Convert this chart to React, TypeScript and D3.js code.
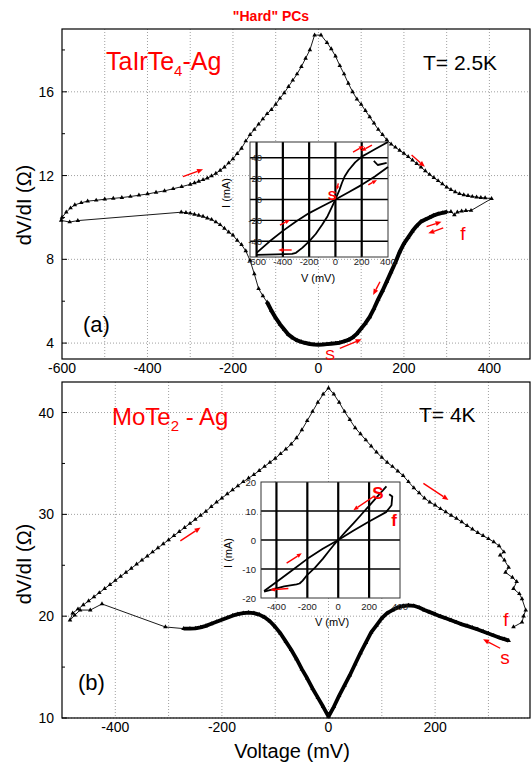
import React from "react";
import * as d3 from "d3";

type P = [number, number];

const FONT = "'Liberation Sans', Arial, Helvetica, sans-serif";
const RED = "#ff0000";

// ---------------- Panel (a): TaIrTe4-Ag, T = 2.5 K ----------------
const aXTicks = [-600, -400, -200, 0, 200, 400];
const aXGrid = [-500, -400, -300, -200, -100, 0, 100, 200, 300, 400];
const aYTicks = [4, 8, 12, 16];
const aYMinor = [6, 10, 14, 18];

// start S (V=0) -> right along the low-resistance branch
const aBottomRight: P[] = [
  [0, 3.92], [10, 3.93], [20, 3.95], [30, 3.97], [40, 3.99], [50, 4.02], [60, 4.08], [70, 4.15],
  [80, 4.27], [90, 4.45], [100, 4.7], [110, 4.95], [120, 5.25], [130, 5.65], [140, 6.1], [150, 6.5],
  [160, 6.95], [170, 7.4], [180, 7.85], [190, 8.35], [200, 8.75], [210, 9.05], [220, 9.35], [230, 9.6],
  [240, 9.8], [250, 9.9], [260, 10.0], [270, 10.1], [280, 10.17], [290, 10.22], [300, 10.26],
];
const aFinish: P[] = [[310, 10.28], [318, 10.12], [325, 10.25], [335, 10.3], [345, 10.32], [357, 10.33]];
// tip -> peak (upper right branch)
const aUpperRight: P[] = [
  [405, 10.9], [390, 10.93], [380, 10.95], [370, 10.97], [360, 11.0], [350, 11.04], [340, 11.08],
  [330, 11.13], [320, 11.22], [310, 11.33], [300, 11.45], [290, 11.6], [280, 11.75], [270, 11.9],
  [260, 12.05], [250, 12.22], [240, 12.4], [230, 12.57], [220, 12.74], [210, 12.9], [200, 13.06],
  [190, 13.2], [180, 13.35], [170, 13.5], [160, 13.7], [150, 13.95], [140, 14.2], [130, 14.5],
  [120, 14.8], [110, 15.1], [100, 15.4], [90, 15.65], [80, 16.0], [70, 16.4], [60, 16.85],
  [50, 17.25], [40, 17.7], [30, 18.05], [20, 18.35], [6, 18.71],
];
// peak -> -600 (upper left branch)
const aUpperLeft: P[] = [
  [-9, 18.71], [-20, 18.0], [-30, 17.6], [-40, 17.2], [-50, 16.85], [-60, 16.55], [-70, 16.25],
  [-80, 15.95], [-90, 15.69], [-100, 15.4], [-110, 15.15], [-120, 14.95], [-130, 14.7], [-140, 14.45],
  [-150, 14.2], [-160, 13.95], [-170, 13.65], [-180, 13.3], [-190, 13.05], [-200, 12.8], [-210, 12.6],
  [-220, 12.4], [-230, 12.25], [-240, 12.1], [-250, 11.98], [-260, 11.88], [-270, 11.8], [-280, 11.72],
  [-290, 11.65], [-300, 11.58], [-320, 11.47], [-340, 11.37], [-360, 11.27], [-380, 11.2],
  [-400, 11.12], [-420, 11.06], [-440, 11.0], [-460, 10.95], [-480, 10.91], [-500, 10.87],
  [-520, 10.82], [-540, 10.78], [-555, 10.7], [-570, 10.6], [-580, 10.45], [-590, 10.25], [-600, 10.0],
];
const aLowerTail: P[] = [[-602, 9.86], [-582, 9.78], [-563, 9.85]];
const aLowerLeft: P[] = [
  [-321, 10.25], [-310, 10.23], [-300, 10.2], [-290, 10.15], [-280, 10.1], [-270, 10.05], [-260, 9.97],
  [-250, 9.9], [-240, 9.78], [-230, 9.65], [-220, 9.48], [-210, 9.3], [-200, 9.15], [-190, 8.9],
  [-180, 8.7], [-170, 8.4], [-160, 7.95], [-150, 7.3], [-140, 6.6], [-130, 6.25],
];
const aBottomLeft: P[] = [
  [-120, 5.95], [-110, 5.55], [-100, 5.2], [-90, 4.9], [-80, 4.65], [-70, 4.4], [-60, 4.25],
  [-50, 4.13], [-40, 4.06], [-30, 4.0], [-20, 3.96], [-10, 3.93], [0, 3.92],
];

// inset (a): I-V
const iaXTicks = [-600, -400, -200, 0, 200, 400];
const iaXGrid = [-600, -400, -200, 0, 200];
const iaYTicks = [40, 20, 0, -20, -40];
const iaLinear: P[] = [
  [-600, -51], [-500, -40], [-400, -30], [-300, -21], [-200, -13], [-100, -6.5], [0, 0],
  [100, 7], [200, 14], [300, 22], [400, 31],
];
const iaSteep: P[] = [
  [400, 55], [300, 48], [250, 44.5], [200, 41], [150, 35.5], [100, 28], [70, 22], [50, 16], [30, 9],
  [0, 0], [-30, -8], [-60, -16], [-100, -24], [-150, -33], [-200, -40], [-250, -46], [-300, -51],
  [-330, -52], [-450, -52.5], [-600, -53],
];
const iaHook: P[] = [[292, 37], [322, 33], [390, 35]];

// ---------------- Panel (b): MoTe2 - Ag, T = 4 K ----------------
const bXTicks = [-400, -200, 0, 200];
const bXGrid = [-400, -300, -200, -100, 0, 100, 200, 300];
const bYTicks = [10, 20, 30, 40];
const bYMinor = [15, 25, 35];

// start s -> left along the low-resistance branch
const bLower: P[] = [
  [338, 17.6], [330, 17.75], [320, 17.9], [310, 18.1], [300, 18.3], [290, 18.5], [280, 18.7],
  [270, 18.87], [260, 19.05], [250, 19.2], [240, 19.4], [230, 19.6], [220, 19.8], [210, 19.98],
  [200, 20.2], [190, 20.4], [180, 20.6], [170, 20.85], [160, 21.02], [150, 21.07], [140, 21.0],
  [130, 20.85], [120, 20.6], [110, 20.3], [100, 19.8], [90, 19.1], [80, 18.4], [70, 17.4],
  [60, 16.4], [50, 15.3], [40, 14.2], [30, 13.2], [20, 12.2], [10, 11.1], [0, 10.15],
  [-10, 11.1], [-20, 12.0], [-30, 12.9], [-40, 13.9], [-50, 14.8], [-60, 15.8], [-70, 16.7],
  [-80, 17.5], [-90, 18.3], [-100, 18.95], [-110, 19.5], [-120, 19.9], [-130, 20.15], [-140, 20.3],
  [-150, 20.35], [-160, 20.3], [-170, 20.2], [-180, 20.05], [-190, 19.85], [-200, 19.65],
  [-210, 19.45], [-220, 19.25], [-230, 19.05], [-240, 18.9], [-250, 18.8], [-260, 18.77], [-272, 18.78],
];
const bJump: P[] = [[-306, 18.94], [-425, 21.2], [-447, 20.6], [-466, 20.6], [-476, 20.1], [-485, 19.6]];
const bUpper: P[] = [
  [-480, 20.3], [-470, 20.7], [-460, 21.1], [-450, 21.5], [-440, 21.9], [-430, 22.3], [-420, 22.7],
  [-410, 23.1], [-400, 23.5], [-390, 23.9], [-380, 24.3], [-370, 24.7], [-360, 25.1], [-350, 25.5],
  [-340, 25.9], [-330, 26.3], [-320, 26.7], [-310, 27.1], [-300, 27.5], [-290, 27.9], [-280, 28.3],
  [-270, 28.7], [-260, 29.1], [-250, 29.5], [-240, 29.9], [-230, 30.3], [-220, 30.75], [-210, 31.2],
  [-200, 31.6], [-190, 32.0], [-180, 32.4], [-170, 32.8], [-160, 33.2], [-150, 33.55], [-140, 33.9],
  [-130, 34.3], [-120, 34.7], [-110, 35.1], [-100, 35.5], [-90, 35.95], [-80, 36.4], [-70, 36.9],
  [-60, 37.5], [-50, 38.3], [-40, 39.2], [-30, 40.1], [-20, 41.0], [-10, 41.8], [0, 42.4],
  [10, 41.8], [20, 41.0], [30, 40.1], [40, 39.3], [50, 38.5], [60, 37.9], [70, 37.3], [80, 36.7],
  [90, 36.1], [100, 35.6], [110, 35.1], [120, 34.7], [130, 34.25], [140, 33.8], [150, 33.2],
  [160, 32.6], [170, 32.1], [180, 31.6], [190, 31.2], [200, 30.9], [210, 30.55], [220, 30.25],
  [230, 29.9], [240, 29.6], [250, 29.25], [260, 28.9], [270, 28.55], [280, 28.2], [290, 27.9],
  [300, 27.6], [310, 27.3], [320, 26.9], [329, 26.3], [322, 26.0], [330, 25.5], [338, 24.8],
  [332, 24.3], [345, 23.8], [353, 23.4], [347, 22.7], [358, 22.2], [363, 21.7], [370, 20.6],
  [366, 20.0], [363, 19.4], [347, 18.94],
];

// inset (b): I-V
const ibXTicks = [-400, -200, 0, 200, 400];
const ibXGrid = [-400, -200, 0, 200];
const ibYTicks = [20, 10, 0, -10, -20];
const ibYGrid = [10, 0, -10];
const ibLinear: P[] = [
  [-480, -17.6], [-400, -14.5], [-300, -10.5], [-200, -6.5], [-100, -3], [0, 0], [100, 3.3],
  [200, 6.4], [310, 9.6], [345, 12], [350, 15], [330, 15.8],
];
const ibSteep: P[] = [
  [312, 18.5], [250, 14.8], [200, 11.8], [150, 8.8], [100, 5.8], [50, 3], [20, 1.2], [0, 0],
  [-30, -1.8], [-60, -3.8], [-100, -6.5], [-150, -9.5], [-200, -12], [-230, -14], [-250, -15],
  [-270, -15.3], [-350, -16], [-480, -17.8],
];

// ---------------- helpers ----------------
const tri = d3.symbol().type(d3.symbolTriangle).size(9)() as string;

function Arrow({ x1, y1, x2, y2, head = 6, w = 1.4 }: { x1: number; y1: number; x2: number; y2: number; head?: number; w?: number }) {
  const a = Math.atan2(y2 - y1, x2 - x1);
  const hx = x2 - head * Math.cos(a);
  const hy = y2 - head * Math.sin(a);
  const px = -Math.sin(a) * head * 0.42;
  const py = Math.cos(a) * head * 0.42;
  return (
    <g>
      <line x1={x1} y1={y1} x2={hx} y2={hy} stroke={RED} strokeWidth={w} />
      <polygon points={`${x2},${y2} ${hx + px},${hy + py} ${hx - px},${hy - py}`} fill={RED} />
    </g>
  );
}

type Lin = d3.ScaleLinear<number, number>;

function MainFrame(props: {
  x: Lin; y: Lin; xTicks: number[]; xGrid: number[]; yTicks: number[]; yMinor: number[];
  labelY: number; xLabelY: number;
}) {
  const { x, y, xTicks, xGrid, yTicks, yMinor, labelY, xLabelY } = props;
  const [x0, x1] = x.range();
  const [y0, y1] = y.range(); // y0 bottom, y1 top
  return (
    <g>
      {xGrid.map((v) => (
        <line key={"gx" + v} x1={x(v)} x2={x(v)} y1={y1} y2={y0} stroke="#a0a0a0" strokeWidth={1} strokeDasharray="1,2" />
      ))}
      {yTicks.map((v) => (
        <line key={"gy" + v} x1={x0} x2={x1} y1={y(v)} y2={y(v)} stroke="#a0a0a0" strokeWidth={1} strokeDasharray="1,2" />
      ))}
      <rect x={x0} y={y1} width={x1 - x0} height={y0 - y1} fill="none" stroke="#000" strokeWidth={1.2} />
      {yTicks.map((v) => (
        <line key={"ty" + v} x1={x0} x2={x0 + 5} y1={y(v)} y2={y(v)} stroke="#000" strokeWidth={1} />
      ))}
      {yMinor.map((v) => (
        <line key={"tm" + v} x1={x0} x2={x0 + 3} y1={y(v)} y2={y(v)} stroke="#000" strokeWidth={1} />
      ))}
      {yTicks.map((v) => (
        <text key={"ly" + v} x={x0 - 8} y={y(v) + 5} textAnchor="end" fontSize={14} fontFamily={FONT} fill="#000">
          {v}
        </text>
      ))}
      {xTicks.map((v) => (
        <text key={"lx" + v} x={x(v)} y={xLabelY} textAnchor="middle" fontSize={14} fontFamily={FONT} fill="#000">
          {v}
        </text>
      ))}
      <text transform={`translate(31,${labelY}) rotate(-90)`} textAnchor="middle" fontSize={20} fontFamily={FONT} fill="#000">
        dV/dI (Ω)
      </text>
    </g>
  );
}

function Curves({ x, y, all, thick, width }: { x: Lin; y: Lin; all: P[]; thick: P[][]; width: number }) {
  const line = d3.line<P>().x((d) => x(d[0])).y((d) => y(d[1]));
  return (
    <g>
      <path d={line(all) as string} fill="none" stroke="#000" strokeWidth={0.9} />
      {thick.map((s, i) => (
        <path key={i} d={line(s) as string} fill="none" stroke="#000" strokeWidth={width} strokeLinejoin="round" />
      ))}
      {all.map((d, i) => (
        <path key={"m" + i} d={tri} transform={`translate(${x(d[0])},${y(d[1])})`} fill="#000" />
      ))}
    </g>
  );
}

function Inset(props: {
  x: Lin; y: Lin; xTicks: number[]; xGrid: number[]; yTicks: number[]; yGrid: number[];
  curves: P[][]; yLabelAnchorX: number; xLabelBase: number; vLabel: [number, number]; iLabel: [number, number];
}) {
  const { x, y, xTicks, xGrid, yTicks, yGrid, curves, yLabelAnchorX, xLabelBase, vLabel, iLabel } = props;
  const [x0, x1] = x.range();
  const [y0, y1] = y.range();
  const line = d3.line<P>().x((d) => x(d[0])).y((d) => y(d[1]));
  return (
    <g>
      <rect x={x0} y={y1} width={x1 - x0} height={y0 - y1} fill="#fff" stroke="none" />
      {xGrid.map((v) => (
        <line key={"vx" + v} x1={x(v)} x2={x(v)} y1={y1} y2={y0} stroke="#000" strokeWidth={2.2} />
      ))}
      {yGrid.map((v) => (
        <line key={"hy" + v} x1={x0} x2={x1} y1={y(v)} y2={y(v)} stroke="#000" strokeWidth={1.4} />
      ))}
      <rect x={x0} y={y1} width={x1 - x0} height={y0 - y1} fill="none" stroke="#333" strokeWidth={1} />
      {curves.map((c, i) => (
        <path key={i} d={line(c) as string} fill="none" stroke="#000" strokeWidth={1.8} strokeLinejoin="round" />
      ))}
      {yTicks.map((v) => (
        <text key={"iy" + v} x={yLabelAnchorX} y={y(v) + 3.5} textAnchor="end" fontSize={9.5} fontFamily={FONT} fill="#222">
          {v}
        </text>
      ))}
      {xTicks.map((v) => (
        <text key={"ix" + v} x={x(v)} y={xLabelBase} textAnchor="middle" fontSize={9.5} fontFamily={FONT} fill="#222">
          {v}
        </text>
      ))}
      <text x={vLabel[0]} y={vLabel[1]} textAnchor="middle" fontSize={11} fontFamily={FONT} fill="#000">
        V (mV)
      </text>
      <text transform={`translate(${iLabel[0]},${iLabel[1]}) rotate(-90)`} textAnchor="middle" fontSize={11} fontFamily={FONT} fill="#000">
        I (mA)
      </text>
    </g>
  );
}

export default function App() {
  // panel (a)
  const xa = d3.scaleLinear().domain([-600, 495]).range([62, 530]);
  const ya = d3.scaleLinear().domain([3.24, 19]).range([359, 29]);
  const aAll: P[] = [...aBottomRight, ...aFinish, ...aUpperRight, ...aUpperLeft, ...aLowerTail, ...aLowerLeft, ...aBottomLeft];

  const xia = d3.scaleLinear().domain([-650, 400]).range([250, 388]);
  const yia = d3.scaleLinear().domain([-55, 55]).range([257, 142]);

  // panel (b)
  const xb = d3.scaleLinear().domain([-500, 378]).range([62, 530]);
  const yb = d3.scaleLinear().domain([10, 43]).range([718, 382]);
  const bAll: P[] = [...bLower, ...bJump, ...bUpper];

  const xib = d3.scaleLinear().domain([-500, 400]).range([261, 400]);
  const yib = d3.scaleLinear().domain([-20, 20]).range([598, 482]);

  const A = (v1: number, r1: number, v2: number, r2: number, sx: Lin, sy: Lin, head = 6) => (
    <Arrow x1={sx(v1)} y1={sy(r1)} x2={sx(v2)} y2={sy(r2)} head={head} />
  );

  return (
    <svg width={532} height={765} style={{ display: "block", position: "absolute", left: 0, top: 0 }}>
      <rect x={0} y={0} width={532} height={765} fill="#fff" />
      <text x={271} y={21} textAnchor="middle" fontSize={14} fontWeight="bold" fontFamily={FONT} fill={RED}>
        "Hard" PCs
      </text>

      {/* ---------- (a) ---------- */}
      <MainFrame x={xa} y={ya} xTicks={aXTicks} xGrid={aXGrid} yTicks={aYTicks} yMinor={aYMinor} labelY={205} xLabelY={373} />
      <Curves x={xa} y={ya} all={aAll} thick={[[...aBottomLeft, ...aBottomRight]]} width={4} />
      <Inset
        x={xia} y={yia} xTicks={iaXTicks} xGrid={iaXGrid} yTicks={iaYTicks} yGrid={iaYTicks}
        curves={[iaLinear, iaSteep, iaHook]} yLabelAnchorX={262} xLabelBase={265}
        vLabel={[318, 282]} iLabel={[230, 193]}
      />
      <text x={106} y={70} fontSize={25} fontFamily={FONT} fill={RED}>
        TaIrTe<tspan fontSize={15} dy={6}>4</tspan><tspan dy={-6}>-Ag</tspan>
      </text>
      <text x={423} y={70} fontSize={21} fontFamily={FONT} fill="#000">T= 2.5K</text>
      <text x={83} y={332} fontSize={22} fontFamily={FONT} fill="#000">(a)</text>
      {A(-317, 11.95, -270, 12.3, xa, ya)}
      {A(218, 12.98, 249, 12.42, xa, ya)}
      {A(144, 6.93, 128, 6.3, xa, ya)}
      {A(50, 3.75, 101, 4.18, xa, ya)}
      {A(253, 9.56, 288, 9.8, xa, ya)}
      {A(292, 9.5, 257, 9.24, xa, ya)}
      <text x={463} y={240} textAnchor="middle" fontSize={19} fontFamily={FONT} fill={RED}>f</text>
      <text x={330} y={360} textAnchor="middle" fontSize={15} fontFamily={FONT} fill={RED}>S</text>
      {/* inset (a) annotations */}
      {A(134, 45.4, 217, 51.2, xia, yia, 5)}
      {A(278, 52.1, 195, 46.4, xia, yia, 5)}
      {A(250, 13.9, 316, 18.7, xia, yia, 5)}
      {A(-422, -24.4, -346, -19.6, xia, yia, 5)}
      {A(-333, -48.3, -435, -48.3, xia, yia, 5)}
      {A(22, 15.5, 10, 9, xia, yia, 4)}
      <text x={332} y={200} textAnchor="middle" fontSize={13} fontWeight="bold" fontFamily={FONT} fill={RED}>S</text>

      {/* ---------- (b) ---------- */}
      <MainFrame x={xb} y={yb} xTicks={bXTicks} xGrid={bXGrid} yTicks={bYTicks} yMinor={bYMinor} labelY={564} xLabelY={732} />
      <Curves x={xb} y={yb} all={bAll} thick={[bLower]} width={3.8} />
      <Inset
        x={xib} y={yib} xTicks={ibXTicks} xGrid={ibXGrid} yTicks={ibYTicks} yGrid={ibYGrid}
        curves={[ibLinear, ibSteep]} yLabelAnchorX={256} xLabelBase={610}
        vLabel={[332, 626]} iLabel={[232, 553]}
      />
      <text x={112} y={425} fontSize={24} fontFamily={FONT} fill={RED}>
        MoTe<tspan fontSize={15} dy={6}>2</tspan><tspan dy={-6}> - Ag</tspan>
      </text>
      <text x={419} y={422} fontSize={21} fontFamily={FONT} fill="#000">T= 4K</text>
      <text x={78} y={690} fontSize={22} fontFamily={FONT} fill="#000">(b)</text>
      <text x={292} y={758} textAnchor="middle" fontSize={20} fontFamily={FONT} fill="#000">Voltage (mV)</text>
      {A(-278, 27.4, -240, 28.7, xb, yb)}
      {A(178, 33.05, 225, 31.41, xb, yb)}
      {A(322, 16.85, 290, 17.73, xb, yb)}
      <text x={506} y={626} textAnchor="middle" fontSize={19} fontFamily={FONT} fill={RED}>f</text>
      <text x={505} y={664} textAnchor="middle" fontSize={19} fontFamily={FONT} fill={RED}>s</text>
      {/* inset (b) annotations */}
      {A(227, 14.9, 98, 10.3, xib, yib, 5)}
      {A(-334, -8.0, -236, -4.6, xib, yib, 5)}
      {A(-323, -16.7, -442, -17.2, xib, yib, 5)}
      <text x={378} y={499} textAnchor="middle" fontSize={17} fontWeight="bold" fontFamily={FONT} fill={RED}>S</text>
      <text x={394} y={526} textAnchor="middle" fontSize={17} fontWeight="bold" fontFamily={FONT} fill={RED}>f</text>
    </svg>
  );
}
